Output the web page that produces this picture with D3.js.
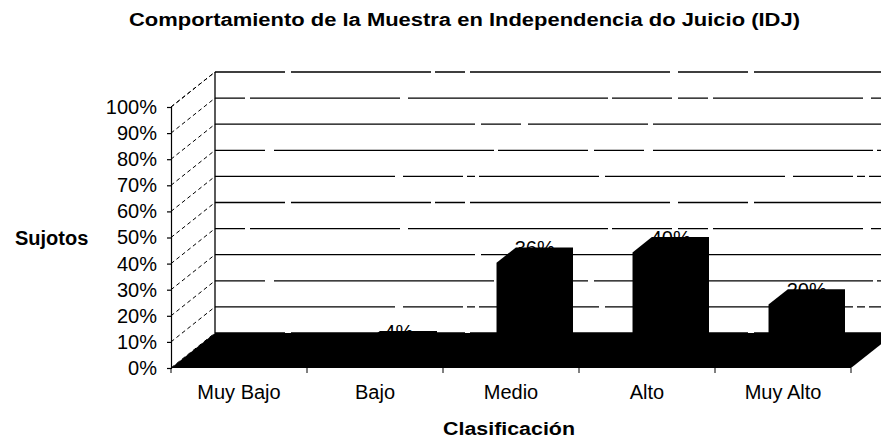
<!DOCTYPE html>
<html>
<head>
<meta charset="utf-8">
<script src="https://cdn.jsdelivr.net/npm/d3@7"></script>
<style>
  body { margin: 0; background: #fff; }
  svg { display: block; font-family: "Liberation Sans", Arial, sans-serif; }
</style>
</head>
<body>
<div id="chart"></div>
<script>
// data
const categories = ['Muy Bajo', 'Bajo', 'Medio', 'Alto', 'Muy Alto'];
const percentages = [0, 0.04, 0.36, 0.40, 0.20];
const valueLabels = ['0%', '4%', '36%', '40%', '20%'];
const yTicks = [0, 0.1, 0.2, 0.3, 0.4, 0.5, 0.6, 0.7, 0.8, 0.9, 1];

const titleText = 'Comportamiento de la Muestra en Independencia do Juicio (IDJ)';
const yTitle = 'Sujotos';
const xTitle = 'Clasificación';

document.addEventListener('DOMContentLoaded', () => {

    const SVG_WIDTH = 881;
    const SVG_HEIGHT = 439;

    // front plane of the 3d box
    const LEFT = 171;
    const RIGHT = 851;
    const BASE = 368;
    const PLOT_H = 261;
    // depth offset of the back wall
    const DX = 44;
    const DY = 35;
    const BAR_F0 = 0.32;
    const BAR_F1 = 0.76;

    // the scan breaks the gridlines up, a few patterns to imitate that
    const dashes = [
        '70,6,140,4,30,5,200,8',
        '180,8,60,4,8,4,120,6',
        '50,9,220,4,90,6',
        '260,6,40,7,120,5',
        '30,5,150,8,200,4,60,6'
    ];

    const svg = d3.select('#chart')
        .append('svg')
            .attr('width', SVG_WIDTH)
            .attr('height', SVG_HEIGHT);

    const x_scale = d3.scaleBand()
        .domain(categories)
        .range([LEFT, RIGHT])
        .paddingInner(0.58)
        .paddingOuter(0.29);

    const y_scale = d3.scaleLinear()
        .domain([0, 1])
        .range([BASE, BASE - PLOT_H]);

    // x, value, depth (0 = front, 1 = back) -> screen point
    const proj = (x, v, f) => [x + DX * f, y_scale(v) - DY * f];

    // back wall gridlines
    svg.append('g')
        .selectAll('line')
        .data(yTicks)
        .enter()
        .append('line')
            .attr('x1', t => proj(LEFT, t, 1)[0])
            .attr('y1', t => proj(LEFT, t, 1)[1])
            .attr('x2', t => proj(RIGHT, t, 1)[0])
            .attr('y2', t => proj(RIGHT, t, 1)[1])
            .attr('stroke', '#000')
            .attr('stroke-width', 1.3)
            .attr('stroke-dasharray', (t, i) => dashes[i % dashes.length]);

    // side wall diagonals
    svg.append('g')
        .selectAll('line')
        .data(yTicks)
        .enter()
        .append('line')
            .attr('x1', t => proj(LEFT, t, 0)[0])
            .attr('y1', t => proj(LEFT, t, 0)[1])
            .attr('x2', t => proj(LEFT, t, 1)[0])
            .attr('y2', t => proj(LEFT, t, 1)[1])
            .attr('stroke', '#000')
            .attr('stroke-width', 1)
            .attr('stroke-dasharray', '4,3');

    // back wall left edge
    svg.append('line')
        .attr('x1', proj(LEFT, 0, 1)[0])
        .attr('y1', proj(LEFT, 0, 1)[1])
        .attr('x2', proj(LEFT, 1, 1)[0])
        .attr('y2', proj(LEFT, 1, 1)[1])
        .attr('stroke', '#000')
        .attr('stroke-width', 1.3);

    // floor
    const floor = [proj(LEFT, 0, 0), proj(RIGHT, 0, 0), proj(RIGHT, 0, 1), proj(LEFT, 0, 1)];
    svg.append('polygon')
        .attr('points', floor.map(p => p.join(',')).join(' '))
        .attr('fill', '#000');

    // value labels (they sit mostly behind the bar tops)
    svg.append('g')
        .selectAll('text')
        .data(categories.filter((c, i) => percentages[i] > 0))
        .enter()
        .append('text')
            .attr('x', c => x_scale(c) + x_scale.bandwidth() / 2 + DX * (BAR_F0 + BAR_F1) / 2)
            .attr('y', c => proj(0, percentages[categories.indexOf(c)], BAR_F1)[1] + 8)
            .attr('text-anchor', 'middle')
            .attr('font-size', 20)
            .text(c => valueLabels[categories.indexOf(c)]);

    // bars
    svg.append('g')
        .selectAll('polygon')
        .data(categories)
        .enter()
        .append('polygon')
            .attr('points', (c, i) => {
                const x0 = x_scale(c);
                const x1 = x0 + x_scale.bandwidth();
                const v = percentages[i];
                return [
                    proj(x0, 0, BAR_F0), proj(x0, v, BAR_F0), proj(x0, v, BAR_F1),
                    proj(x1, v, BAR_F1), proj(x1, 0, BAR_F1), proj(x1, 0, BAR_F0)
                ].map(p => p.join(',')).join(' ');
            })
            .attr('fill', '#000');

    // front value axis
    const y_axis = d3.axisLeft(y_scale)
        .tickValues(yTicks)
        .tickSize(4)
        .tickPadding(10)
        .tickFormat(d3.format('.0%'));

    const yAxisG = svg.append('g')
        .attr('transform', `translate(${LEFT},0)`)
        .call(y_axis);
    yAxisG.attr('font-family', null).attr('font-size', null);
    yAxisG.selectAll('text').attr('font-size', 20).attr('fill', '#000');
    yAxisG.selectAll('line, path').attr('stroke', '#000').attr('stroke-width', 1.2);

    // top edge of side wall
    svg.append('line')
        .attr('x1', proj(LEFT, 1, 0)[0])
        .attr('y1', proj(LEFT, 1, 0)[1])
        .attr('x2', proj(LEFT, 1, 1)[0])
        .attr('y2', proj(LEFT, 1, 1)[1])
        .attr('stroke', '#000')
        .attr('stroke-dasharray', '4,3');

    // category axis: ticks at band boundaries, labels at band centers
    const boundaries = categories.map(c => x_scale(c) - x_scale.step() * 0.29).concat([RIGHT]);
    svg.append('g')
        .selectAll('line')
        .data(boundaries)
        .enter()
        .append('line')
            .attr('x1', d => d)
            .attr('x2', d => d)
            .attr('y1', BASE)
            .attr('y2', BASE + 5)
            .attr('stroke', '#000');

    svg.append('g')
        .selectAll('text')
        .data(categories)
        .enter()
        .append('text')
            .attr('x', c => x_scale(c) + x_scale.bandwidth() / 2)
            .attr('y', 399)
            .attr('text-anchor', 'middle')
            .attr('font-size', 20)
            .text(c => c);

    // titles (the scan stretches them sideways)
    svg.append('text')
        .attr('x', 129)
        .attr('y', 26)
        .attr('font-size', 18)
        .attr('font-weight', 'bold')
        .attr('textLength', 671)
        .attr('lengthAdjust', 'spacingAndGlyphs')
        .text(titleText);

    svg.append('text')
        .attr('x', 15)
        .attr('y', 245)
        .attr('font-size', 20)
        .attr('font-weight', 'bold')
        .text(yTitle);

    svg.append('text')
        .attr('x', 443)
        .attr('y', 435)
        .attr('font-size', 18)
        .attr('font-weight', 'bold')
        .attr('textLength', 132)
        .attr('lengthAdjust', 'spacingAndGlyphs')
        .text(xTitle);
});
</script>
</body>
</html>
